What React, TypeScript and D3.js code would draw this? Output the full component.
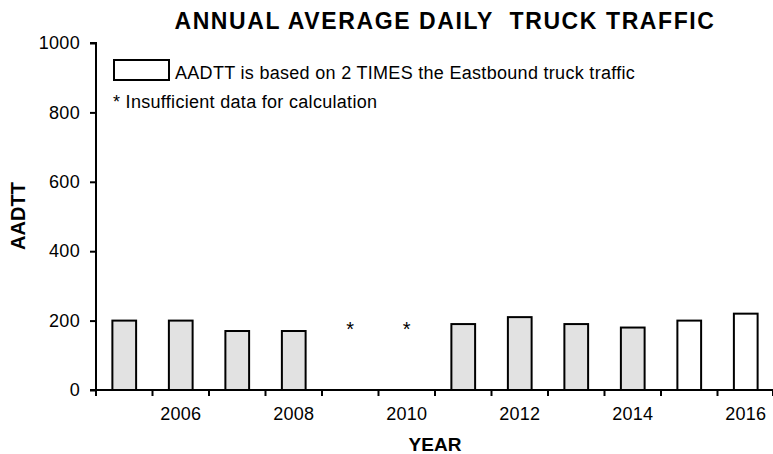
import React, { useEffect, useRef } from 'react';
import * as d3 from 'd3';

const years = [2005, 2006, 2007, 2008, 2009, 2010, 2011, 2012, 2013, 2014, 2015, 2016];
const aadtt: (number | null)[] = [200, 200, 170, 170, null, null, 190, 210, 190, 180, 200, 220];
// 2015+ counts are doubled eastbound counts (white bars)
const doubled = [false, false, false, false, false, false, false, false, false, false, true, true];
const yTicks = [0, 200, 400, 600, 800, 1000];
const xLabelYears = [2006, 2008, 2010, 2012, 2014, 2016];
const insufficientLevel = 195;

const W = 773;
const H = 454;
const FONT = 'Arial, "Liberation Sans", Helvetica, sans-serif';

const App: React.FC = () => {
  const svgRef = useRef<SVGSVGElement>(null);

  useEffect(() => {
    if (!svgRef.current) return;
    const el = svgRef.current;
    d3.select(el).selectAll('*').remove();
    const svg = d3.select(el);

    const left = 96;
    const right = 774;
    const top = 43;
    const bottom = 390;

    const x = d3.scaleBand<number>().domain(years).range([left, right]).paddingInner(0).paddingOuter(0);
    const y = d3.scaleLinear().domain([0, 1000]).range([bottom, top]);
    const bw = x.bandwidth();
    const barW = bw * 0.42;

    // Title
    svg
      .append('text')
      .attr('x', 445)
      .attr('y', 29)
      .attr('text-anchor', 'middle')
      .attr('font-family', FONT)
      .attr('font-weight', 'bold')
      .attr('font-size', 23)
      .attr('letter-spacing', 1.6)
      .style('white-space', 'pre')
      .text('ANNUAL AVERAGE DAILY  TRUCK TRAFFIC');

    // Bars
    years.forEach((yr, i) => {
      const v = aadtt[i];
      const cx = (x(yr) ?? 0) + bw / 2;
      if (v == null) {
        svg
          .append('text')
          .attr('x', cx)
          .attr('y', y(insufficientLevel) + 14)
          .attr('text-anchor', 'middle')
          .attr('font-family', FONT)
          .attr('font-size', 20)
          .text('*');
        return;
      }
      svg
        .append('rect')
        .attr('x', cx - barW / 2)
        .attr('y', y(v))
        .attr('width', barW)
        .attr('height', y(0) - y(v))
        .attr('fill', doubled[i] ? '#ffffff' : '#e2e2e2')
        .attr('stroke', '#000')
        .attr('stroke-width', 2);
    });

    // Y axis
    const yAxis = d3
      .axisLeft(y)
      .tickValues(yTicks)
      .tickSize(6)
      .tickPadding(10)
      .tickFormat((d) => String(d));
    svg
      .append('g')
      .attr('transform', `translate(${left},0)`)
      .call(yAxis)
      .call((g) => g.select('.domain').attr('stroke', '#000').attr('stroke-width', 2).attr('d', `M-6,${top}H0V${bottom}`))
      .call((g) => g.selectAll('.tick line').attr('stroke', '#000').attr('stroke-width', 2))
      .call((g) =>
        g
          .selectAll('.tick text')
          .attr('fill', '#000')
          .attr('font-size', 18)
          .attr('font-family', FONT)
          .attr('letter-spacing', 0.3)
      );

    // X axis: ticks at band boundaries
    const boundaries = years.map((yr) => x(yr) ?? 0).concat([right]);
    const xg = svg.append('g');
    xg.append('line')
      .attr('x1', left - 6)
      .attr('x2', right)
      .attr('y1', bottom)
      .attr('y2', bottom)
      .attr('stroke', '#000')
      .attr('stroke-width', 2);
    xg.selectAll('.xt')
      .data(boundaries.slice(0, -1).concat([right - 1]))
      .enter()
      .append('line')
      .attr('x1', (d) => d)
      .attr('x2', (d) => d)
      .attr('y1', bottom)
      .attr('y2', bottom + 6)
      .attr('stroke', '#000')
      .attr('stroke-width', 2);
    xg.selectAll('.xl')
      .data(xLabelYears)
      .enter()
      .append('text')
      .attr('x', (d) => (x(d) ?? 0) + bw / 2)
      .attr('y', 420)
      .attr('text-anchor', 'middle')
      .attr('font-family', FONT)
      .attr('font-size', 18)
      .attr('letter-spacing', 0.3)
      .text((d) => String(d));

    // Axis titles
    svg
      .append('text')
      .attr('x', 435)
      .attr('y', 451)
      .attr('text-anchor', 'middle')
      .attr('font-family', FONT)
      .attr('font-weight', 'bold')
      .attr('font-size', 19)
      .text('YEAR');
    svg
      .append('text')
      .attr('transform', 'translate(25,216) rotate(-90)')
      .attr('text-anchor', 'middle')
      .attr('font-family', FONT)
      .attr('font-weight', 'bold')
      .attr('font-size', 20)
      .text('AADTT');

    // Legend
    svg
      .append('rect')
      .attr('x', 114)
      .attr('y', 60)
      .attr('width', 55)
      .attr('height', 20)
      .attr('fill', '#fff')
      .attr('stroke', '#000')
      .attr('stroke-width', 2);
    svg
      .append('text')
      .attr('x', 175)
      .attr('y', 79)
      .attr('font-family', FONT)
      .attr('font-size', 18)
      .attr('letter-spacing', 0.3)
      .text('AADTT is based on 2 TIMES the Eastbound truck traffic');
    svg
      .append('text')
      .attr('x', 113)
      .attr('y', 108)
      .attr('font-family', FONT)
      .attr('font-size', 18)
      .attr('letter-spacing', 0.3)
      .text('* Insufficient data for calculation');
  }, []);

  return (
    <svg
      ref={svgRef}
      width={W}
      height={H}
      style={{ position: 'absolute', left: 0, top: 0, background: '#fff', display: 'block' }}
    />
  );
};

export default App;
